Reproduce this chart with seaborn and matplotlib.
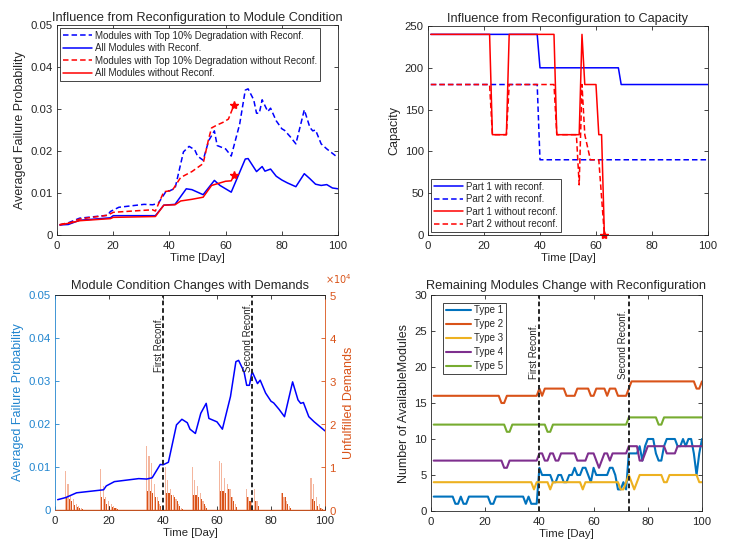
import matplotlib
matplotlib.use("Agg")
import matplotlib.pyplot as plt
import matplotlib.transforms as mtransforms
from matplotlib.ticker import FuncFormatter, ScalarFormatter
import seaborn as sns

# ---------------------------------------------------------------------------
# Data
# ---------------------------------------------------------------------------
# top-left: averaged failure probability
blue_top_day = [1, 4, 8, 18, 19, 22, 31, 34, 36, 39, 40, 42, 45, 47, 49, 50, 52, 54, 56, 57,
                60, 62, 65, 67, 68, 70, 71, 72, 73, 75, 76, 78, 80, 81, 83, 85, 88, 90, 91, 92,
                94, 96, 100]
blue_top_val = [0.0024, 0.0029, 0.0040, 0.0047, 0.0056, 0.0066, 0.0073, 0.0072, 0.0075, 0.0106,
                0.0105, 0.0111, 0.0198, 0.0211, 0.0203, 0.0188, 0.0178, 0.0225, 0.0248, 0.0213,
                0.0205, 0.0188, 0.0264, 0.0345, 0.0348, 0.0322, 0.0290, 0.0290, 0.0322, 0.0294,
                0.0302, 0.0272, 0.0253, 0.0249, 0.0234, 0.0217, 0.0298, 0.0256, 0.0248, 0.0250,
                0.0217, 0.0205, 0.0184]
blue_all_day = [1, 4, 6, 8, 19, 20, 35, 38, 42, 46, 48, 52, 56, 58, 62, 67, 68, 71, 73, 74,
                76, 78, 80, 82, 85, 88, 90, 92, 94, 96, 98, 100]
blue_all_val = [0.0024, 0.0025, 0.0030, 0.0035, 0.0041, 0.0046, 0.0046, 0.0071, 0.0073, 0.0110,
                0.0108, 0.0096, 0.0130, 0.0118, 0.0102, 0.0181, 0.0182, 0.0151, 0.0163, 0.0152,
                0.0157, 0.0140, 0.0131, 0.0124, 0.0115, 0.0146, 0.0134, 0.0121, 0.0118, 0.0120,
                0.0112, 0.0110]
red_top_day = [1, 5, 8, 18, 20, 29, 34, 35, 38, 41, 44, 48, 52, 54, 55, 57, 59, 61, 63]
red_top_val = [0.0025, 0.0030, 0.0038, 0.0047, 0.0054, 0.0058, 0.0060, 0.0057, 0.0103, 0.0106,
               0.0137, 0.0151, 0.0170, 0.0230, 0.0255, 0.0262, 0.0268, 0.0276, 0.0310]
red_all_day = [1, 5, 8, 19, 20, 35, 38, 42, 44, 48, 52, 55, 58, 60, 62, 63]
red_all_val = [0.0024, 0.0029, 0.0034, 0.0039, 0.0042, 0.0044, 0.0071, 0.0072, 0.0081, 0.0085,
               0.0090, 0.0118, 0.0124, 0.0128, 0.0129, 0.0142]
fail_day = 63

# top-right: capacity
p1_rec_day = [1, 39, 40, 68, 69, 100]
p1_rec_val = [240, 240, 200, 200, 180, 180]
p2_rec_day = [1, 39, 40, 100]
p2_rec_val = [180, 180, 90, 90]
p1_norec_day = [1, 22, 23, 28, 29, 45, 46, 54, 55, 56, 60, 61, 62, 63]
p1_norec_val = [240, 240, 120, 120, 240, 240, 120, 120, 240, 180, 180, 120, 120, 0]
p2_norec_day = [1, 22, 23, 28, 29, 45, 46, 53, 54, 55, 56, 58, 61, 63]
p2_norec_val = [180, 180, 120, 120, 180, 180, 120, 120, 60, 180, 120, 90, 90, 0]

# bottom-left: unfulfilled demands (bars)
bar_day = [4, 5, 6, 7, 8, 9, 10, 17, 18, 19, 20, 21, 22, 23, 34, 35, 36, 37, 38, 39,
           41, 42, 43, 44, 45, 46, 47, 51, 52, 53, 54, 55, 56, 61, 62, 63, 64, 65, 66, 67,
           71, 72, 73, 74, 75, 84, 85, 86, 87, 95, 96, 97, 98, 99]
demand_light = [9000, 6000, 3500, 2500, 1500, 1000, 500, 9500, 5500, 3000, 2000, 1500, 1000, 500,
                15000, 12500, 11000, 6000, 3000, 1500, 10000, 7000, 5000, 3500, 2500, 1500, 500,
                10000, 7000, 5500, 4000, 2000, 1000, 11500, 11000, 7500, 6000, 5000, 3000, 1500,
                5000, 3000, 2500, 5000, 2000, 4000, 3000, 2000, 1000, 7500, 6000, 3000, 1500, 500]
demand_dark = [3000, 2500, 2000, 1200, 800, 500, 200, 3000, 2500, 1500, 1000, 800, 500, 200,
               4500, 4500, 4000, 3000, 2000, 1000, 4000, 4000, 3500, 3000, 2000, 1000, 300,
               3500, 3500, 3000, 2500, 1500, 500, 4500, 4500, 4000, 5000, 3000, 2000, 800,
               3000, 2000, 1000, 2000, 1000, 4000, 3000, 1500, 500, 2500, 2000, 1000, 500, 200]
reconf_days = [40, 73]
reconf_labels = ["First Reconf.", "Second Reconf."]

# bottom-right: remaining modules
t1_day = [1, 8, 9, 10, 11, 12, 13, 14, 21, 22, 23, 24, 34, 35, 36, 37, 39, 40, 41, 44,
          45, 46, 47, 48, 49, 50, 51, 52, 53, 54, 55, 56, 57, 58, 59, 60, 61, 65, 66, 67,
          68, 69, 70, 71, 72, 73, 76, 77, 78, 79, 80, 82, 83, 84, 85, 86, 87, 90, 91, 92,
          93, 94, 95, 96, 97, 98, 99, 100]
t1_val = [2, 2, 1, 1, 2, 1, 1, 2, 2, 1, 1, 2, 2, 1, 2, 1, 1, 6, 5, 5,
          4, 4, 5, 5, 4, 4, 5, 5, 6, 5, 5, 6, 6, 5, 4, 6, 5, 5, 6, 6,
          5, 3, 3, 4, 3, 8, 8, 9, 7, 9, 10, 10, 8, 7, 7, 9, 10, 10, 9, 9,
          10, 9, 10, 10, 8, 5, 8, 10]
t2_day = [1, 25, 26, 27, 28, 39, 40, 41, 42, 49, 50, 53, 54, 58, 59, 60, 61, 64, 65, 66,
          68, 69, 72, 73, 74, 97, 98, 99, 100]
t2_val = [16, 16, 15, 15, 16, 16, 17, 16, 17, 17, 16, 16, 17, 17, 16, 16, 17, 17, 16, 17,
          17, 16, 16, 17, 18, 18, 17, 17, 18]
t3_day = [1, 37, 38, 39, 43, 44, 45, 55, 56, 57, 69, 70, 71, 72, 73, 74, 75, 76, 77, 85,
          86, 87, 88, 98, 99, 100]
t3_val = [4, 4, 3, 4, 4, 3, 4, 4, 3, 4, 4, 3, 3, 4, 5, 4, 3, 4, 5, 5,
          4, 4, 5, 5, 4, 4]
t4_day = [1, 26, 27, 28, 29, 39, 40, 41, 42, 43, 44, 45, 46, 47, 48, 53, 54, 57, 58, 60,
          61, 62, 63, 64, 65, 66, 67, 72, 73, 76, 77, 78, 79, 80, 86, 87, 90, 91, 100]
t4_val = [7, 7, 6, 6, 7, 7, 8, 8, 7, 7, 8, 8, 7, 7, 8, 8, 7, 7, 8, 8,
          7, 6, 7, 8, 8, 7, 8, 8, 9, 9, 7, 7, 8, 9, 9, 8, 8, 9, 9]
t5_day = [1, 27, 28, 29, 30, 42, 43, 44, 45, 72, 73, 83, 84, 85, 86, 100]
t5_val = [12, 12, 11, 11, 12, 12, 11, 11, 12, 12, 13, 13, 12, 12, 13, 13]

# ---------------------------------------------------------------------------
# Style
# ---------------------------------------------------------------------------
sns.set_theme(style="ticks")
plt.rcParams["font.family"] = ["Liberation Sans", "DejaVu Sans"]
plt.rcParams.update({
    "axes.titlesize": 9.2,
    "axes.labelsize": 8.2,
    "axes.labelcolor": "#262626",
    "legend.fontsize": 7,
    "lines.dashed_pattern": (3.6, 2.0),
})

DARK = "#262626"
MBLUE = "#2185cf"
MORANGE = "#D95319"
TYPE_COLORS = ["#0072BD", "#D95319", "#EDB120", "#7E2F8E", "#77AC30"]
YLAB_SIZE = 9


def matlab_axes(ax):
    for s in ax.spines.values():
        s.set_color(DARK)
        s.set_linewidth(0.6)
    ax.tick_params(direction="in", top=True, right=True, length=3, width=0.6,
                   labelsize=8.2, colors=DARK, pad=3)
    ax.tick_params(axis="x", pad=4)
    ax.set_xlim(0, 100)
    ax.set_xticks([0, 20, 40, 60, 80, 100])
    ax.set_xlabel("Time [Day]", labelpad=2)


def matlab_legend(ax, **kw):
    opts = dict(frameon=True, fancybox=False, framealpha=1, edgecolor=DARK,
                handlelength=3.0, handletextpad=0.3, borderpad=0.3, labelspacing=0.25)
    opts.update(kw)
    leg = ax.legend(**opts)
    leg.get_frame().set_linewidth(0.6)
    return leg


fmt_g = FuncFormatter(lambda v, p: f"{v:g}")

fig = plt.figure(figsize=(7.31, 5.51), dpi=100)

# ---------------------------------------------------------------------------
# Top-left
# ---------------------------------------------------------------------------
ax = fig.add_axes([0.078, 0.5735, 0.3844, 0.3811])
sns.lineplot(x=blue_top_day, y=blue_top_val, ax=ax, color="blue", lw=1.1, linestyle="--",
             label="Modules with Top 10% Degradation with Reconf.")
sns.lineplot(x=blue_all_day, y=blue_all_val, ax=ax, color="blue", lw=1.1,
             label="All Modules with Reconf.")
sns.lineplot(x=red_top_day, y=red_top_val, ax=ax, color="red", lw=1.1, linestyle="--",
             label="Modules with Top 10% Degradation without Reconf.")
sns.lineplot(x=red_all_day, y=red_all_val, ax=ax, color="red", lw=1.1,
             label="All Modules without Reconf.")
ax.plot([fail_day, fail_day], [red_top_val[-1], red_all_val[-1]], ls="none",
        marker="*", ms=6, color="red")
matlab_axes(ax)
ax.set_ylim(0, 0.05)
ax.set_yticks([0, 0.01, 0.02, 0.03, 0.04, 0.05])
ax.yaxis.set_major_formatter(fmt_g)
ax.set_ylabel("Averaged Failure Probability", fontsize=YLAB_SIZE, labelpad=3)
ax.set_title("Influence from Reconfiguration to Module Condition", pad=3)
matlab_legend(ax, loc="upper left", borderaxespad=0.3)

# ---------------------------------------------------------------------------
# Top-right
# ---------------------------------------------------------------------------
ax = fig.add_axes([0.5855, 0.5735, 0.383, 0.3793])
sns.lineplot(x=p1_rec_day, y=p1_rec_val, ax=ax, color="blue", lw=1.1,
             label="Part 1 with reconf.")
sns.lineplot(x=p2_rec_day, y=p2_rec_val, ax=ax, color="blue", lw=1.1, linestyle="--",
             label="Part 2 with reconf.")
sns.lineplot(x=p1_norec_day, y=p1_norec_val, ax=ax, color="red", lw=1.1,
             label="Part 1 without reconf.")
sns.lineplot(x=p2_norec_day, y=p2_norec_val, ax=ax, color="red", lw=1.1, linestyle="--",
             label="Part 2 without reconf.")
ax.plot([fail_day], [0], ls="none", marker="*", ms=6, color="red", clip_on=False)
matlab_axes(ax)
ax.set_ylim(0, 250)
ax.set_yticks([0, 50, 100, 150, 200, 250])
ax.set_ylabel("Capacity", fontsize=YLAB_SIZE, labelpad=3)
ax.set_title("Influence from Reconfiguration to Capacity", pad=3)
matlab_legend(ax, loc="lower left", borderaxespad=0.3)

# ---------------------------------------------------------------------------
# Bottom-left
# ---------------------------------------------------------------------------
ax = fig.add_axes([0.0752, 0.0744, 0.3694, 0.3902])
ax2 = ax.twinx()
ax2.bar([d - 0.18 for d in bar_day], demand_light, width=0.4, color="#F4B69E", linewidth=0)
ax2.bar([d + 0.22 for d in bar_day], demand_dark, width=0.4, color=MORANGE, linewidth=0)
ax2.axhline(0, color=MORANGE, lw=1.0)
ax2.set_ylim(0, 50000)
ax2.set_yticks([0, 10000, 20000, 30000, 40000, 50000])
ax2.yaxis.set_major_formatter(ScalarFormatter(useMathText=True))
ax2.ticklabel_format(axis="y", style="sci", scilimits=(0, 0))
ax2.yaxis.get_offset_text().set_visible(False)
ax2.text(1.0, 1.04, r"$\times10^{4}$", transform=ax2.transAxes, ha="left", va="bottom",
         fontsize=7, color=MORANGE)
ax2.set_ylabel("Unfulfilled Demands", color=MORANGE, fontsize=YLAB_SIZE, labelpad=4)

sns.lineplot(x=blue_top_day, y=blue_top_val, ax=ax, color="blue", lw=1.1)
trans = mtransforms.blended_transform_factory(ax.transData, ax.transAxes)
for d, lab in zip(reconf_days, reconf_labels):
    ax.axvline(d, color=DARK, lw=1.4, ls=(0, (2.4, 1.5)))
    ax.text(d + 0.3, 0.64, lab, rotation=90, transform=trans, ha="right", va="bottom",
            fontsize=7, color=DARK)
matlab_axes(ax)
ax.set_ylim(0, 0.05)
ax.set_yticks([0, 0.01, 0.02, 0.03, 0.04, 0.05])
ax.yaxis.set_major_formatter(fmt_g)
ax.set_ylabel("Averaged Failure Probability", color=MBLUE, fontsize=YLAB_SIZE, labelpad=3)
ax.set_title("Module Condition Changes with Demands", pad=4)
ax.set_zorder(ax2.get_zorder() + 1)
ax.patch.set_visible(False)
ax.tick_params(axis="y", right=False, colors=MBLUE)
ax.spines["left"].set_color(MBLUE)
ax.spines["right"].set_visible(False)
ax.spines["bottom"].set_color(MORANGE)
ax2.tick_params(axis="y", direction="in", left=False, right=True, length=3, width=0.6,
                labelsize=8.2, colors=MORANGE, pad=3)
for s in ax2.spines.values():
    s.set_linewidth(0.6)
    s.set_color(DARK)
ax2.spines["right"].set_color(MORANGE)
ax2.spines["left"].set_visible(False)

# ---------------------------------------------------------------------------
# Bottom-right
# ---------------------------------------------------------------------------
ax = fig.add_axes([0.5896, 0.0726, 0.3707, 0.392])
type_days = [t1_day, t2_day, t3_day, t4_day, t5_day]
type_vals = [t1_val, t2_val, t3_val, t4_val, t5_val]
for i, (dd, vv) in enumerate(zip(type_days, type_vals)):
    sns.lineplot(x=dd, y=vv, ax=ax, color=TYPE_COLORS[i], lw=1.5, label=f"Type {i + 1}")
trans = mtransforms.blended_transform_factory(ax.transData, ax.transAxes)
for d, lab in zip(reconf_days, reconf_labels):
    ax.axvline(d, color=DARK, lw=1.4, ls=(0, (2.4, 1.5)))
    ax.text(d - 0.3, 0.61, lab, rotation=90, transform=trans, ha="right", va="bottom",
            fontsize=7, color=DARK)
matlab_axes(ax)
ax.set_ylim(0, 30)
ax.set_yticks([0, 5, 10, 15, 20, 25, 30])
ax.set_ylabel("Number of AvailableModules", fontsize=YLAB_SIZE, labelpad=3)
ax.set_title("Remaining Modules Change with Reconfiguration", pad=4)
matlab_legend(ax, loc="upper left", bbox_to_anchor=(0.045, 0.965), borderaxespad=0,
              handlelength=2.6, labelspacing=0.4)

fig.savefig("out.png", dpi=100)
